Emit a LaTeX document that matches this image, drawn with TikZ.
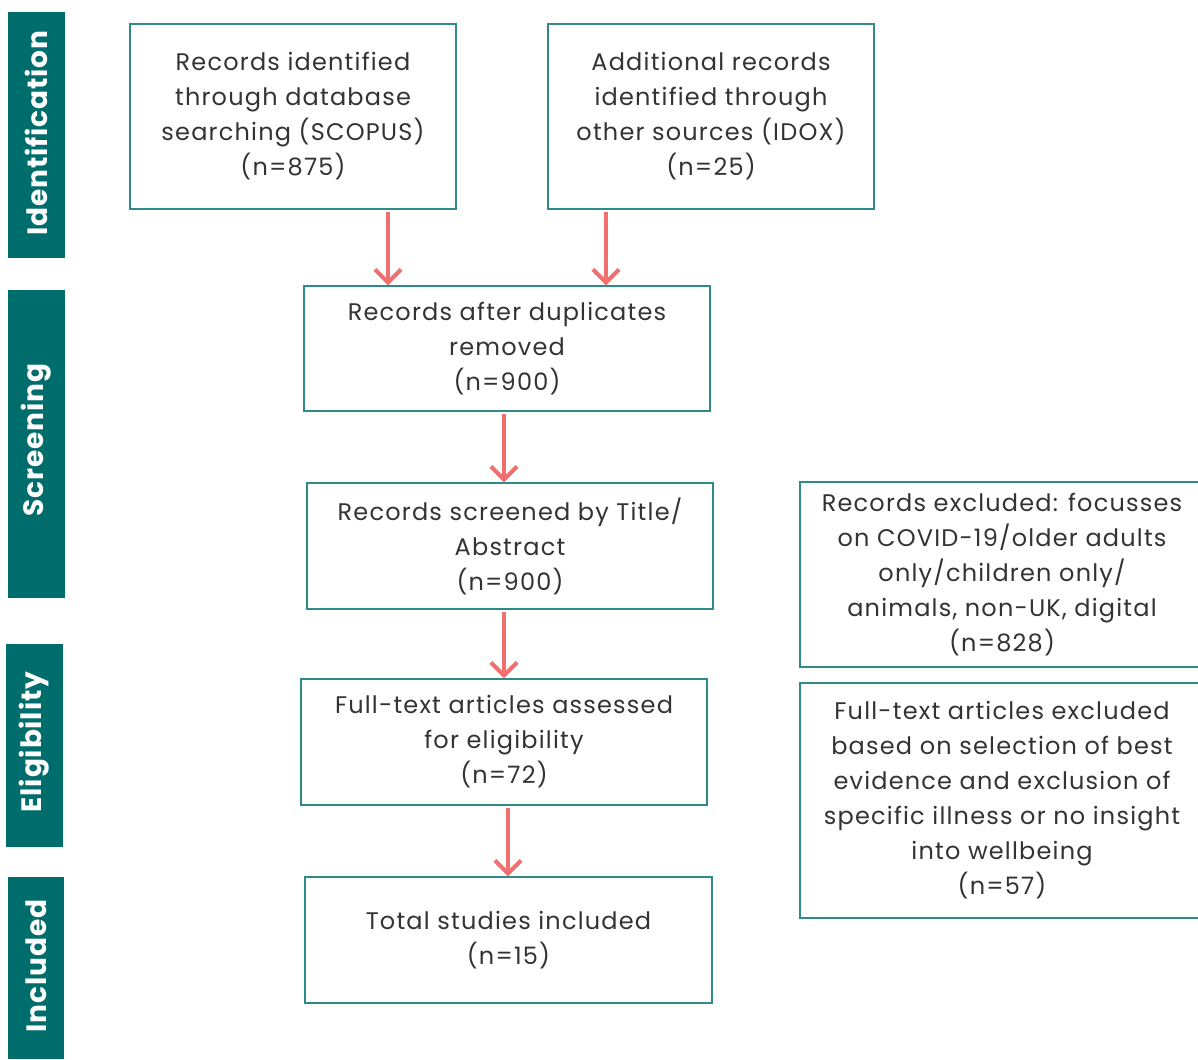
\documentclass[tikz,border=0pt]{standalone}
\usepackage{fontspec}
\setmainfont{Poppins}
\newfontfamily\boxfont{Poppins}[LetterSpace=5]
\newfontfamily\barfont{Poppins}[LetterSpace=3]
\usetikzlibrary{arrows.meta}
\definecolor{barteal}{HTML}{006D6D}
\definecolor{boxteal}{HTML}{2F8A8A}
\definecolor{arrowred}{HTML}{F26F6F}
\definecolor{txt}{HTML}{333333}
\tikzset{
  box/.style={draw=boxteal, line width=1.4pt, align=center, text=txt,
    font=\boxfont\fontsize{24}{35}\selectfont, inner sep=0pt},
  bartext/.style={text=white, font=\barfont\fontsize{28}{30}\selectfont\bfseries, rotate=90},
  flow/.style={draw=arrowred, line width=4pt,
    -{Straight Barb[width=26pt,length=13pt,line width=4pt]}},
}
\begin{document}
\begin{tikzpicture}[x=1pt,y=1pt]
\useasboundingbox (0,0) rectangle (1198,-1059);
% side bars
\fill[barteal] (8,-12) rectangle (65,-258);
\node[bartext] (lid) at (36.5,-133) {Identification};
\fill[barteal] (8,-290) rectangle (65,-598);
\node[bartext] (lsc) at (36.5,-440) {Screening};
\fill[barteal] (6,-644) rectangle (63,-847);
\node[bartext] (lel) at (34.5,-742) {Eligibility};
\fill[barteal] (8,-877) rectangle (64,-1059);
\node[bartext] (lin) at (36,-966) {Included};
% boxes
\node[box, minimum width=326, minimum height=185] (A) at (293,-116.5)
  {Records identified\\through database\\searching (SCOPUS)\\(n=875)};
\node[box, minimum width=326, minimum height=185] (B) at (711,-116.5)
  {Additional records\\identified through\\other sources (IDOX)\\(n=25)};
\node[box, minimum width=406, minimum height=125] (C) at (507,-348.5)
  {Records after duplicates\\removed\\(n=900)};
\node[box, minimum width=406, minimum height=126] (D) at (510,-546)
  {Records screened by Title/\\Abstract\\(n=900)};
\node[box, minimum width=406, minimum height=126] (E) at (504,-742)
  {Full-text articles assessed\\for eligibility\\(n=72)};
\node[box, minimum width=407, minimum height=126] (F) at (508.5,-940)
  {Total studies included\\(n=15)};
\node[box, minimum width=404, minimum height=185] (G) at (1002,-574.5)
  {Records excluded: focusses\\on COVID-19/older adults\\only/children only/\\animals, non-UK, digital\\(n=828)};
\node[box, minimum width=404, minimum height=235] (H) at (1002,-800.5)
  {Full-text articles excluded\\based on selection of best\\evidence and exclusion of\\specific illness or no insight\\into wellbeing\\(n=57)};
% arrows
\coordinate (a1) at (388,-212);
\coordinate (a2) at (606,-212);
\draw[flow] (a1) -- (a1 |- C.north) ;
\draw[flow] (a2) -- (a2 |- C.north) ;
\draw[flow] ([yshift=-2]C.south -| 504,0) -- (504,0 |- D.north);
\draw[flow] ([yshift=-2]D.south -| 504,0) -- (504,0 |- E.north);
\draw[flow] ([yshift=-2]E.south -| 508,0) -- (508,0 |- F.north);
\end{tikzpicture}
\end{document}
